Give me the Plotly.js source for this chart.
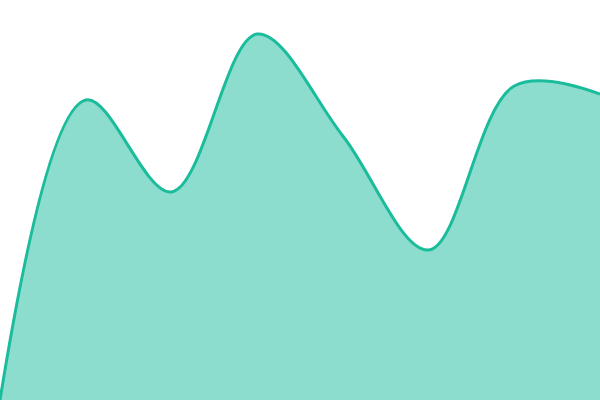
<!DOCTYPE html>
<html>
<head>
<meta charset="utf-8">
<script src="https://cdn.plot.ly/plotly-3.0.1.min.js"></script>
<style>
  html, body { margin: 0; padding: 0; background: #ffffff; }
  #chart { width: 600px; height: 400px; }
</style>
</head>
<body>
<div id="chart"></div>
<script>
// area chart, smooth line, no axes
const xIndex = [0, 1, 2, 3, 4, 5, 6, 7];
const seriesValues = [0, 75, 52, 91.5, 66, 37.5, 78.5, 76.5];

const areaTrace = [{
    x: xIndex,
    y: seriesValues,
    type: 'scatter',
    mode: 'lines',
    fill: 'tozeroy',
    fillcolor: 'rgba(26, 188, 156, 0.5)',
    line: {
        color: '#1abc9c',
        width: 3,
        shape: 'spline',
        smoothing: 1
    },
    hoverinfo: 'skip'
}];

const layout = {
    width: 600,
    height: 400,
    margin: { l: 0, r: 0, t: 0, b: 0 },
    paper_bgcolor: '#ffffff',
    plot_bgcolor: '#ffffff',
    showlegend: false,
    xaxis: {
        visible: false,
        range: [0, 7],
        fixedrange: true
    },
    yaxis: {
        visible: false,
        range: [0, 100],
        fixedrange: true
    }
};

Plotly.newPlot('chart', areaTrace, layout, { displayModeBar: false, staticPlot: true });
</script>
</body>
</html>
